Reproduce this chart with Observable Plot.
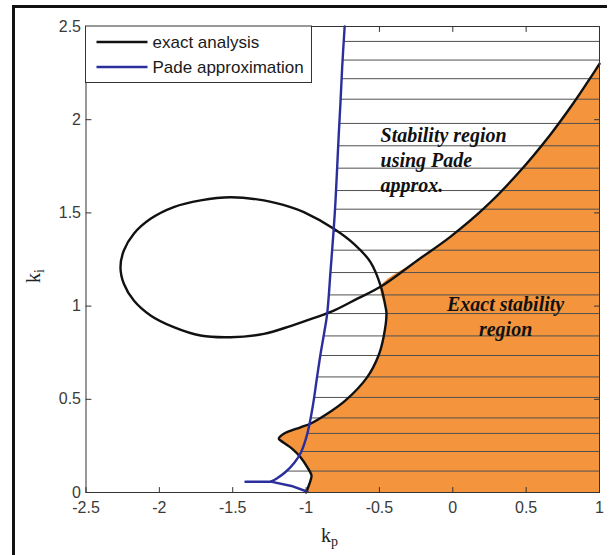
<!DOCTYPE html>
<html>
<head>
<meta charset="utf-8">
<script src="https://cdn.jsdelivr.net/npm/d3@7"></script>
<script src="https://cdn.jsdelivr.net/npm/@observablehq/plot@0.6"></script>
<style>
  html, body { margin: 0; padding: 0; background: #fff; overflow: hidden; }
  #wrap { position: relative; width: 614px; height: 555px; overflow: hidden; }
  #chart { position: absolute; left: 0; top: 0; }
  .edge { position: absolute; background: #111; pointer-events: none; }
  #edgeTop { left: 12px; top: 5px; width: 595px; height: 3px; }
  #edgeLeft { left: 12px; top: 5px; width: 3px; height: 550px; }
</style>
</head>
<body>
<div id="wrap"><div id="chart"></div><div class="edge" id="edgeTop"></div><div class="edge" id="edgeLeft"></div></div>
<script>
// Exact stability boundary in the (kp, ki) plane, traced as one path:
// bottom cusp -> right lobe -> big loop -> crossing -> upper branch.
const exactCurve = [
  [-1.000, 0.000], [-0.970, 0.064], [-0.963, 0.091], [-0.992, 0.136],
  [-1.038, 0.189], [-1.094, 0.234], [-1.174, 0.279], [-1.186, 0.288],
  [-1.152, 0.315], [-1.038, 0.350], [-0.970, 0.369], [-0.856, 0.422],
  [-0.731, 0.494], [-0.583, 0.619], [-0.506, 0.735], [-0.472, 0.833],
  [-0.452, 0.960], [-0.458, 0.994], [-0.490, 1.105],
  [-0.561, 1.236], [-0.674, 1.334], [-0.811, 1.415], [-1.015, 1.504],
  [-1.106, 1.531], [-1.288, 1.567], [-1.515, 1.584], [-1.719, 1.567],
  [-1.902, 1.531], [-2.060, 1.468], [-2.174, 1.388], [-2.242, 1.298],
  [-2.265, 1.209], [-2.242, 1.120], [-2.174, 1.030], [-2.060, 0.950],
  [-1.902, 0.887], [-1.719, 0.842], [-1.515, 0.833], [-1.288, 0.851],
  [-1.106, 0.893], [-0.950, 0.935], [-0.800, 0.980], [-0.650, 1.040],
  [-0.490, 1.105],
  [-0.242, 1.245], [-0.015, 1.373], [0.212, 1.524], [0.439, 1.707],
  [0.666, 1.921], [0.825, 2.092], [0.939, 2.226], [1.000, 2.300]
];
// index of the self-crossing point on the first and second pass
const crossFirst = 18;
const crossSecond = 43;

// Pade-approximation boundary: rising branch and the short lower tail
const padeUpper = [
  [-1.240, 0.058], [-1.200, 0.075], [-1.140, 0.110], [-1.080, 0.160],
  [-1.035, 0.215], [-0.990, 0.320], [-0.955, 0.460], [-0.925, 0.620],
  [-0.900, 0.750], [-0.878, 0.850], [-0.856, 0.960], [-0.833, 1.190],
  [-0.811, 1.420], [-0.799, 1.570], [-0.788, 1.745], [-0.777, 1.924],
  [-0.765, 2.100], [-0.754, 2.280], [-0.737, 2.500]
];
const padeLower = [
  [-1.413, 0.058], [-1.240, 0.058], [-1.100, 0.035], [-0.990, 0.004]
];

// ki levels of the hatching that marks the Pade stability region
const hatchKi = [2.42, 2.32, 2.22, 2.11, 1.98, 1.86, 1.74, 1.62, 1.52, 1.40, 1.30,
                 1.18, 1.06, 0.96, 0.84, 0.735, 0.62, 0.51, 0.40, 0.317, 0.22, 0.115];

const xTicks = [-2.5, -2, -1.5, -1, -0.5, 0, 0.5, 1];
const yTicks = [0, 0.5, 1, 1.5, 2, 2.5];
const xDomain = [-2.5, 1];
const yDomain = [0, 2.5];

const legendItems = [
  {label: "exact analysis", color: "#111111"},
  {label: "Pade approximation", color: "#2b2f9c"}
];
const noteTop = "Stability region\nusing Pade\napprox.";
const noteExact = "Exact stability\nregion";

// exact stability region: cusp/lobe up to the crossing, then the upper branch,
// closed along the right and bottom edges of the plot
const exactRegion = [
  ...exactCurve.slice(0, crossFirst + 1),
  ...exactCurve.slice(crossSecond + 1),
  [xDomain[1], yDomain[0]]
];

// left end of each hatch line sits on the Pade boundary
const padeKp = d3.scaleLinear()
  .domain(padeUpper.map(d => d[1]))
  .range(padeUpper.map(d => d[0]));

const tickShape = {draw(context, l) { context.moveTo(0, 0); context.lineTo(0, -l); }};
const tickStyle = {length: 5, anchor: "start", shape: tickShape, stroke: "#333", strokeWidth: 1};
const smooth = "catmull-rom";

const chart = Plot.plot({
  width: 614,
  height: 555,
  marginLeft: 85.5,
  marginRight: 15,
  marginTop: 26,
  marginBottom: 63,
  x: {domain: xDomain, label: null},
  y: {domain: yDomain, label: null},
  style: {background: "transparent", fontFamily: "'Liberation Sans', Arial, sans-serif",
          fontSize: "16px", color: "#3a3a3a", display: "block"},
  marks: [
    Plot.line(exactRegion, {fill: "#f4943c", stroke: "none", curve: smooth, clip: true}),
    Plot.ruleY(hatchKi, {y: d => d, x1: d => padeKp(d), x2: xDomain[1], stroke: "#505050", strokeWidth: 1}),
    Plot.line(exactCurve, {stroke: "#111", strokeWidth: 2.4, curve: smooth}),
    Plot.line(padeUpper, {stroke: "#2b2f9c", strokeWidth: 2.4, curve: smooth}),
    Plot.line(padeLower, {stroke: "#2b2f9c", strokeWidth: 2.4, curve: "linear"}),
    Plot.text([noteTop], {x: -0.4925, y: 1.975, textAnchor: "start", lineAnchor: "top",
      lineHeight: 1.25, fontFamily: "'Liberation Serif', 'Times New Roman', serif",
      fontSize: 20, fontWeight: "bold", fontStyle: "italic", fill: "#111"}),
    Plot.text([noteExact], {x: 0.36, y: 1.069, textAnchor: "middle", lineAnchor: "top",
      lineHeight: 1.25, fontFamily: "'Liberation Serif', 'Times New Roman', serif",
      fontSize: 20, fontWeight: "bold", fontStyle: "italic", fill: "#111"}),
    // MATLAB-style inward ticks on all four sides
    Plot.vector(xTicks, {x: d => d, y: yDomain[0], rotate: 0, ...tickStyle}),
    Plot.vector(xTicks, {x: d => d, y: yDomain[1], rotate: 180, ...tickStyle}),
    Plot.vector(yTicks, {y: d => d, x: xDomain[0], rotate: 90, ...tickStyle}),
    Plot.vector(yTicks, {y: d => d, x: xDomain[1], rotate: -90, ...tickStyle}),
    Plot.axisX(xTicks, {tickSize: 0, tickPadding: 9, tickFormat: d => String(d), fill: "#3a3a3a"}),
    Plot.axisY(yTicks, {tickSize: 0, tickPadding: 5, tickFormat: d => String(d), fill: "#3a3a3a"}),
    Plot.frame({stroke: "#333", strokeWidth: 1})
  ]
});

document.getElementById("chart").appendChild(chart);

const svg = d3.select(chart);
const sx = chart.scale("x"), sy = chart.scale("y");
const plotLeft = sx.apply(xDomain[0]), plotTop = sy.apply(yDomain[1]);

// legend box in the upper-left corner
const legend = svg.append("g")
  .attr("font-family", "'Liberation Sans', Arial, sans-serif")
  .attr("font-size", 17)
  .attr("text-anchor", "start");
legend.append("rect")
  .attr("x", plotLeft).attr("y", plotTop).attr("width", 226).attr("height", 56.5)
  .attr("fill", "#fff").attr("stroke", "#333").attr("stroke-width", 1);
legendItems.forEach((item, i) => {
  const ly = plotTop + 16 + i * 25;
  legend.append("line")
    .attr("x1", plotLeft + 11).attr("x2", plotLeft + 62).attr("y1", ly).attr("y2", ly)
    .attr("stroke", item.color).attr("stroke-width", 2.4);
  legend.append("text")
    .attr("x", plotLeft + 67).attr("y", ly + 6).attr("fill", "#1a1a1a").text(item.label);
});

// axis titles with subscripts
const serif = "'Liberation Serif', 'Times New Roman', serif";
const xt = svg.append("text").attr("x", 321).attr("y", 542).attr("text-anchor", "start")
  .attr("font-family", serif).attr("font-size", 20).attr("fill", "#222");
xt.append("tspan").text("k");
xt.append("tspan").attr("font-size", 14).attr("dy", 4).text("p");

const yt = svg.append("text").attr("transform", "translate(40,283) rotate(-90)")
  .attr("text-anchor", "start")
  .attr("font-family", serif).attr("font-size", 20).attr("fill", "#222");
yt.append("tspan").text("k");
yt.append("tspan").attr("font-size", 14).attr("dy", 4).text("i");
</script>
</body>
</html>
